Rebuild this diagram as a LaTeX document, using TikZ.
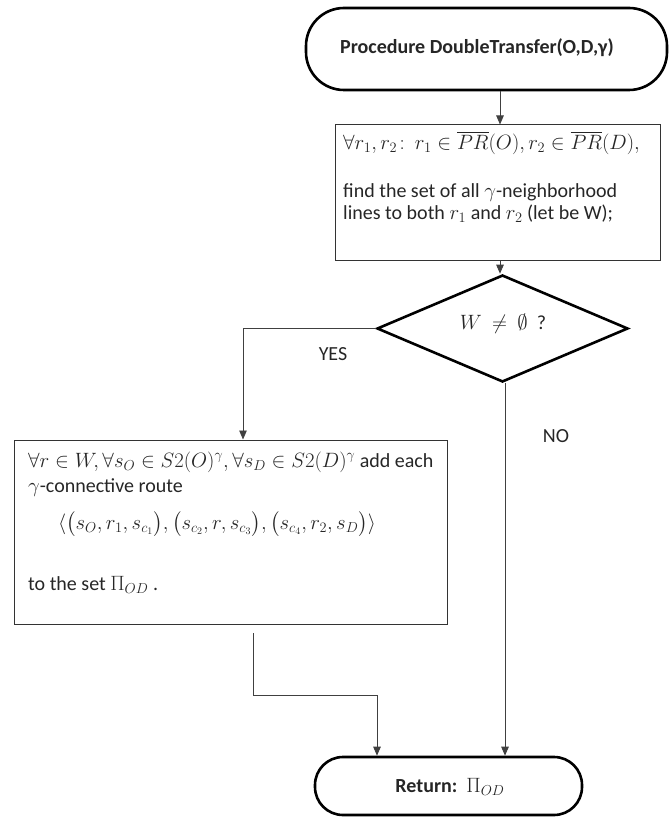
\documentclass[tikz,border=0pt]{standalone}
\usepackage{amsmath}
\usepackage{fontspec}
\setmainfont{Carlito}
\usetikzlibrary{arrows.meta,shapes.geometric}
\begin{document}
\begin{tikzpicture}[x=1pt,y=-1pt,
  term/.style={draw=black,line width=2.6pt,rounded corners=#1,inner sep=0pt},
  procbox/.style={draw=black!80,line width=1pt,inner sep=0pt},
  decide/.style={draw=black,line width=2.6pt,diamond,inner sep=0pt,minimum width=251pt,minimum height=107pt},
  txt/.style={inner sep=0pt,anchor=west,font=\fontsize{20}{22}\selectfont,text=black!85},
  arr/.style={draw=black!75,line width=0.9pt,-{Triangle[length=9pt,width=7.5pt]}},
  lbl/.style={inner sep=0pt,font=\fontsize{20}{22}\selectfont,text=black!85}]
\useasboundingbox (0,0) rectangle (670,818);
% shapes
\node[term=38pt,minimum width=361pt,minimum height=82pt] (t1) at (486.5,49) {};
\node[inner sep=0pt,font=\fontsize{20}{22}\selectfont\bfseries,text=black!85] (t1txt) at (477,48) {Procedure DoubleTransfer(O,D,γ)};
\node[procbox,minimum width=325pt,minimum height=135pt] (b1) at (497.5,192.5) {};
\node[txt] (b1l1) at (343,143) {$\forall r_1, r_2\!:\ r_1 \in \overline{PR}(O), r_2 \in \overline{PR}(D),$};
\node[txt] (b1l2) at (343,193) {find the set of all $\gamma$-neighborhood};
\node[txt] (b1l3) at (343,214) {lines to both $r_1$ and $r_2$ (let be W);};
\node[decide] (d) at (502.5,328.5) {};
\node[lbl] (dtxt) at (503,324) {$W\ \neq\ \emptyset$\ \ ?};
\node[procbox,minimum width=433pt,minimum height=184pt] (b2) at (230.5,532) {};
\node[txt] (b2l1) at (28,462) {$\forall r\in W, \forall s_O \in S2(O)^{\gamma}, \forall s_D \in S2(D)^{\gamma}$ add each};
\node[txt] (b2l2) at (28,488) {$\gamma$-connective route};
\node[lbl] (b2l3) at (217,524) {$\langle\bigl(s_O, r_1, s_{c_1}\bigr), \bigl(s_{c_2}, r, s_{c_3}\bigr), \bigl(s_{c_4}, r_2, s_D\bigr)\rangle$};
\node[txt] (b2l4) at (28,585) {to the set $\Pi_{OD}$ .};
\node[term=28pt,minimum width=267pt,minimum height=58pt] (t2) at (448.5,786) {};
\node[inner sep=0pt,font=\fontsize{20}{22}\selectfont,text=black!85] (t2txt) at (450,787) {\textbf{Return:}\ \ $\Pi_{OD}$};
% labels
\node[lbl] (yes) at (333,354) {YES};
\node[lbl] (no) at (556,436) {NO};
% connectors
\coordinate (ax) at (500,0);
\draw[arr] (t1.south -| ax) -- (b1.north -| ax);
\draw[arr] (b1.south -| ax) -- (d.north -| ax);
\coordinate (yx) at (243,0);
\draw[arr] (d.west) -| (b2.north -| yx);
\coordinate (nx) at (505,0);
\draw[arr] (d.south -| nx) -- (t2.north -| nx);
\coordinate (j1) at (253,633);
\coordinate (j2) at (377,695);
\draw[arr] (j1) |- (j2) -- (j2 |- t2.north);
\end{tikzpicture}
\end{document}
